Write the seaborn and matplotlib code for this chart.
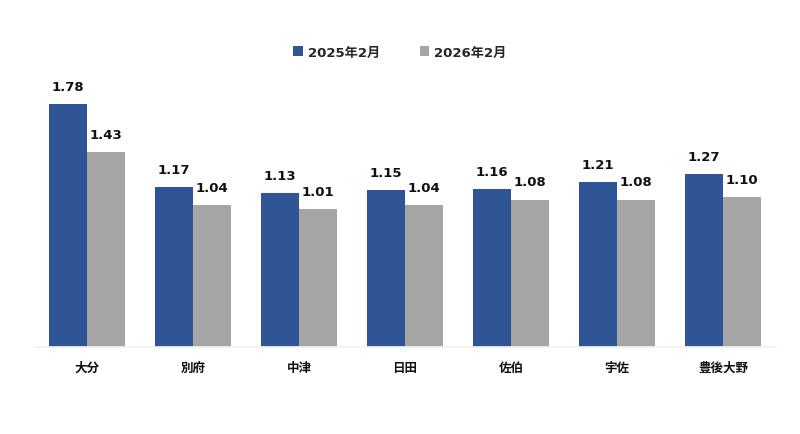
import matplotlib
matplotlib.use("Agg")
import matplotlib.pyplot as plt
import seaborn as sns
import pandas as pd
from matplotlib.patches import Patch

cities = ["大分", "別府", "中津", "日田", "佐伯", "宇佐", "豊後大野"]
series_names = ["2025年2月", "2026年2月"]
values_2025 = [1.78, 1.17, 1.13, 1.15, 1.16, 1.21, 1.27]
values_2026 = [1.43, 1.04, 1.01, 1.04, 1.08, 1.08, 1.10]
colors = ["#2F5597", "#A5A5A5"]

sns.set_theme(style="white")
plt.rcParams['font.family'] = ['DejaVu Sans', 'Noto Sans CJK JP']

df = pd.DataFrame({
    "city": cities * 2,
    "value": values_2025 + values_2026,
    "period": [series_names[0]] * len(cities) + [series_names[1]] * len(cities),
})

fig = plt.figure(figsize=(8, 4.35), dpi=100)
ax = fig.add_axes([0.0425, 0.2, 0.9275, 0.6276])
sns.barplot(data=df, x="city", y="value", hue="period", hue_order=series_names,
            palette=colors, width=0.71, gap=0, ax=ax, legend=False, saturation=1,
            linewidth=0, edgecolor="none")

for cont in ax.containers:
    ax.bar_label(cont, fmt="%.2f", padding=8, fontsize=9.5, fontweight="bold",
                 color="#111111")

ax.set_ylim(0, 2.0)
ax.set_xlim(-0.5, 6.5)
ax.set_xlabel("")
ax.set_ylabel("")
ax.set_yticks([])
for s in ["top", "right", "left"]:
    ax.spines[s].set_visible(False)
ax.spines["bottom"].set_color("#F2F2F2")
ax.tick_params(axis="x", length=0, pad=10)
for lbl in ax.get_xticklabels():
    lbl.set_fontfamily(['Noto Sans CJK JP'])
    lbl.set_fontweight("bold")
    lbl.set_fontsize(9)
    lbl.set_color("#111111")

handles = [Patch(facecolor=c, edgecolor="none") for c in colors]
fig.legend(handles, series_names, loc="center", bbox_to_anchor=(0.5, 0.878),
           ncol=2, frameon=False, handlelength=0.7, handleheight=0.7,
           handletextpad=0.4, columnspacing=3.0,
           prop={"weight": "bold", "size": 9.5, "family": ['DejaVu Sans', 'Noto Sans CJK JP']})

fig.savefig("out.png", dpi=100, facecolor="white")
